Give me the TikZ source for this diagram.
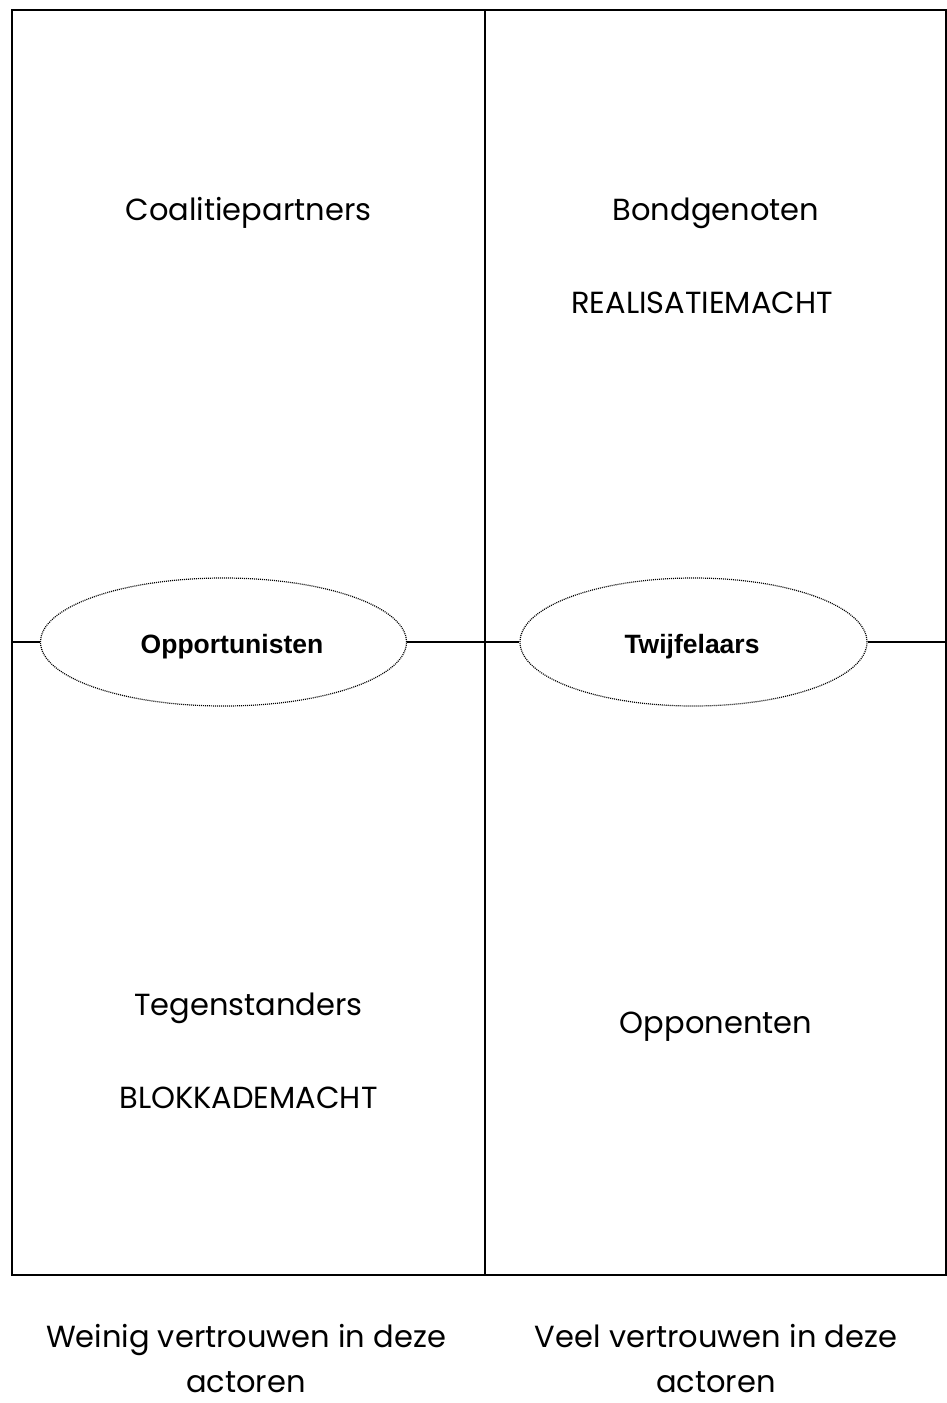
\documentclass[tikz,border=0pt]{standalone}
\usepackage{fontspec}
\setmainfont{Poppins}
\newfontfamily\arialfont{Liberation Sans}
\usetikzlibrary{shapes.geometric,positioning,calc}

\begin{document}
\begin{tikzpicture}[x=1pt, y=-1pt,
  kader/.style={line width=1.6pt},
  scheiding/.style={line width=1.2pt},
  groep/.style={ellipse, draw, line width=1.2pt, dash pattern=on 1pt off 1pt, minimum width=#1, minimum height=128pt, inner sep=0pt},
  groeptekst/.style={font=\arialfont\fontsize{26.5}{30}\selectfont\bfseries},
  kwadrant/.style={font=\fontsize{30.5}{36}\selectfont, align=center},
  as/.style={font=\fontsize{30.5}{45}\selectfont, align=center, inner sep=0pt}
]
  \useasboundingbox (0,0) rectangle (947,1403);
  % kader
  \coordinate (lb) at (12,10);
  \coordinate (ro) at (946,1275);
  \draw[kader] (lb) rectangle (ro);
  \coordinate (mb) at (485,10);
  \coordinate (mo) at (485,1275);
  \draw[scheiding] (mb) -- (mo);

  % twijfelgroepen
  \node[groep=366pt, label={[groeptekst, xshift=8.5pt, yshift=-5pt]center:Opportunisten}] (opport) at (223.5,642) {};
  \node[groep=347pt, label={[groeptekst, xshift=-1.5pt, yshift=-5pt]center:Twijfelaars}] (twijfel) at (693.5,642) {};
  \coordinate (ml) at (12,642);
  \coordinate (mr) at (946,642);
  \draw[scheiding] (ml) -- (opport.west);
  \draw[scheiding] (opport.east) -- (twijfel.west);
  \draw[scheiding] (twijfel.east) -- (mr);

  % kwadranten
  \node[kwadrant] (coalitie) at (248.5,213) {Coalitiepartners};
  \node[kwadrant] (bondgenoten) at (716,213) {Bondgenoten};
  \node[kwadrant] (realisatie) at (702,303) {REALISATIEMACHT};
  \node[kwadrant] (tegen) at (248.5,1008) {Tegenstanders};
  \node[kwadrant] (blokkade) at (248.5,1098) {BLOKKADEMACHT};
  \node[kwadrant] (opponent) at (716,1027) {Opponenten};

  % as onder
  \node[as] (weinig) at (246,1359) {Weinig vertrouwen in deze\\actoren};
  \node[as] (veel) at (716,1359) {Veel vertrouwen in deze\\actoren};
\end{tikzpicture}
\end{document}
